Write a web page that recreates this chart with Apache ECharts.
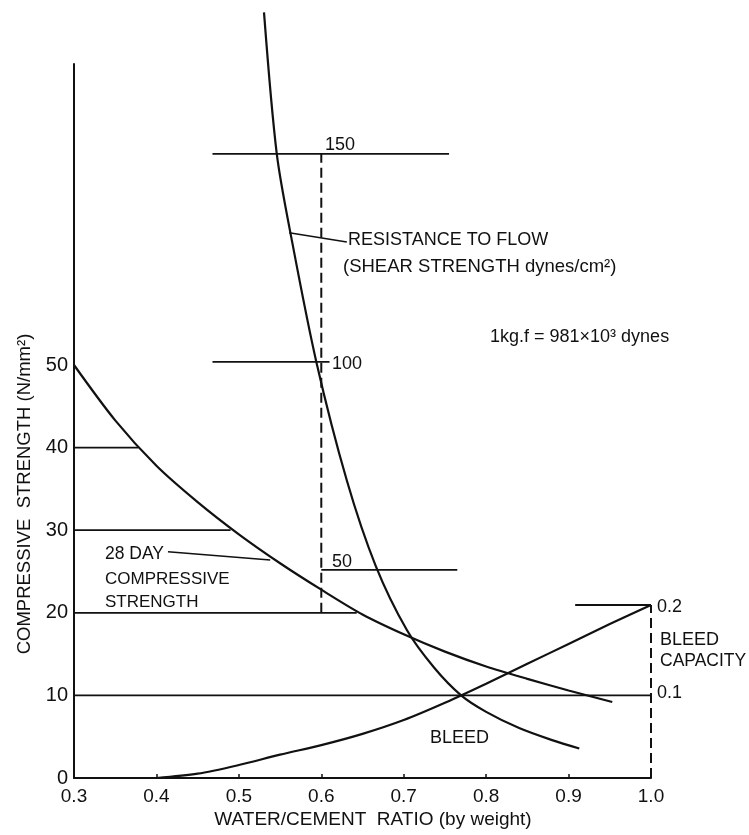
<!DOCTYPE html>
<html>
<head>
<meta charset="utf-8">
<script src="https://cdn.jsdelivr.net/npm/echarts@6/dist/echarts.min.js"></script>
<style>
html,body{margin:0;padding:0;background:#fff;}
#chart{width:749px;height:835px;}
</style>
</head>
<body>
<div id="chart"></div>
<script>
// ---------- data ----------
const xTicks = [0.3, 0.4, 0.5, 0.6, 0.7, 0.8, 0.9, 1.0];
const compLabels = [0, 10, 20, 30, 40, 50];

// 28 day compressive strength (N/mm2)
const compX = [0.30, 0.35, 0.40, 0.45, 0.50, 0.55, 0.60, 0.65, 0.70, 0.75, 0.80, 0.85, 0.90, 0.953];
const compY = [50, 43.3, 37.8, 33.4, 29.5, 26.0, 22.8, 19.8, 17.4, 15.3, 13.5, 12.0, 10.6, 9.2];

// resistance to flow (shear strength, dynes/cm2)
const resX = [0.5305, 0.546, 0.5645, 0.594, 0.631, 0.666, 0.704, 0.737, 0.77, 0.80, 0.84, 0.88, 0.913];
const resY = [184, 150, 129, 100, 71.5, 51, 35.5, 26.5, 19.8, 15.9, 12.0, 9.1, 7.1];

// bleed capacity
const bleedX = [0.40, 0.45, 0.50, 0.55, 0.60, 0.65, 0.70, 0.75, 0.80, 0.85, 0.90, 0.95, 1.00];
const bleedY = [0, 0.005, 0.015, 0.027, 0.038, 0.051, 0.067, 0.087, 0.109, 0.132, 0.155, 0.178, 0.200];

// reference lines on compressive scale
const compRefLevels = [40, 30, 20, 10];
const compRefEnds = [0.378, 0.49, 0.643, 1.0];

// shear scale ticks (drawn along w/c = 0.6)
const shearLevels = [150, 100, 50];
const shearStarts = [0.468, 0.468, 0.6];
const shearEnds = [0.755, 0.61, 0.765];
const shearAxisX = 0.6;
const shearAxisRange = [39.7, 150];

// bleed scale (drawn along w/c = 1.0)
const bleedAxisX = 1.0;
const bleedAxisRange = [0, 0.2];
const bleedTickLevel = 0.2;
const bleedTickStart = 0.908;

// pointer leaders (compressive scale)
const resPointer = [[0.561, 66.0], [0.631, 64.9]];
const dayPointer = [[0.414, 27.4], [0.538, 26.4]];

// ---------- chart ----------
const INK = '#111';
const FONT = "'Liberation Sans', Arial, sans-serif";
const chart = echarts.init(document.getElementById('chart'), null, {renderer: 'canvas'});

const zip = (xs, ys) => xs.map((x, i) => [x, ys[i]]);
const plain = (name, data, yIdx, extra) => Object.assign({
  type: 'line', name, data, yAxisIndex: yIdx, symbol: 'none', silent: true,
  lineStyle: {color: INK, width: 2}, animation: false, z: 3
}, extra || {});

const series = [];
series.push(plain('compressive', zip(compX, compY), 0, {smooth: 0.3, lineStyle: {color: INK, width: 2.2}}));
series.push(plain('resistance', zip(resX, resY), 1, {smooth: 0.3, clip: false, lineStyle: {color: INK, width: 2.2}}));
series.push(plain('bleed', zip(bleedX, bleedY), 2, {smooth: 0.3, lineStyle: {color: INK, width: 2.2}}));

compRefLevels.forEach((lv, i) => {
  series.push(plain('cref' + lv, [[xTicks[0], lv], [compRefEnds[i], lv]], 0, {lineStyle: {color: INK, width: 1.8}}));
});
shearLevels.forEach((lv, i) => {
  series.push(plain('sref' + lv, [[shearStarts[i], lv], [shearEnds[i], lv]], 1, {lineStyle: {color: INK, width: 1.8}}));
});
series.push(plain('shearAxis', [[shearAxisX, shearAxisRange[0]], [shearAxisX, shearAxisRange[1]]], 1,
  {lineStyle: {color: INK, width: 2, type: [10, 5]}}));
series.push(plain('bleedAxis', [[bleedAxisX, bleedAxisRange[0]], [bleedAxisX, bleedAxisRange[1]]], 2,
  {lineStyle: {color: INK, width: 2, type: [10, 5]}}));
series.push(plain('bleedTick', [[bleedTickStart, bleedTickLevel], [bleedAxisX, bleedTickLevel]], 2,
  {lineStyle: {color: INK, width: 1.8}}));
series.push(plain('resPointer', resPointer, 0, {lineStyle: {color: INK, width: 1.5}}));
series.push(plain('dayPointer', dayPointer, 0, {lineStyle: {color: INK, width: 1.5}}));

const txt = (text, x, y, size, extra, rot) => {
  const g = {
    type: 'text', x, y, silent: true, z: 10,
    style: Object.assign({text, fill: INK, font: (size || 18) + 'px ' + FONT, verticalAlign: 'middle', align: 'left'}, extra || {})
  };
  if (rot) g.rotation = rot;
  return g;
};

const option = {
  backgroundColor: '#fff',
  animation: false,
  grid: {left: 74, right: 98, top: 64, bottom: 57, containLabel: false},
  xAxis: {
    type: 'value', min: 0.3, max: 1.0, interval: 0.1,
    axisLine: {show: true, lineStyle: {color: INK, width: 2}},
    axisTick: {show: true, inside: true, length: 4, lineStyle: {color: INK, width: 1.5}},
    axisLabel: {color: INK, fontSize: 19, fontFamily: FONT, margin: 9,
      formatter: v => xTicks.some(t => Math.abs(t - v) < 1e-6) ? v.toFixed(1) : ''},
    splitLine: {show: false}
  },
  yAxis: [
    {
      type: 'value', min: 0, max: 86.44, interval: 10,
      axisLine: {show: true, lineStyle: {color: INK, width: 2}},
      axisTick: {show: false},
      axisLabel: {color: INK, fontSize: 20, fontFamily: FONT, margin: 6,
        formatter: v => compLabels.indexOf(Math.round(v)) >= 0 && Math.abs(v - Math.round(v)) < 1e-6 ? String(Math.round(v)) : ''},
      splitLine: {show: false}
    },
    {type: 'value', min: 0, max: 171.6, show: false, splitLine: {show: false}},
    {type: 'value', min: 0, max: 0.8254, show: false, splitLine: {show: false}}
  ],
  series,
  graphic: [
    txt('COMPRESSIVE  STRENGTH (N/mm²)', 25, 494, 18.5, {align: 'center'}, Math.PI / 2),
    txt('WATER/CEMENT  RATIO (by weight)', 373, 820, 19, {align: 'center'}),
    txt('150', 325, 145, 18),
    txt('100', 332, 364, 18),
    txt('50', 332, 562, 18),
    txt('RESISTANCE TO FLOW', 348, 240, 18),
    txt('(SHEAR STRENGTH dynes/cm²)', 343, 267, 18.5),
    txt('1kg.f = 981×10³ dynes', 490, 337, 18),
    txt('28 DAY', 105, 554, 17.5),
    txt('COMPRESSIVE', 105, 579, 17),
    txt('STRENGTH', 105, 602, 17),
    txt('BLEED', 430, 738, 18),
    txt('0.2', 657, 607, 18),
    txt('BLEED', 660, 640, 18),
    txt('CAPACITY', 660, 661, 17.5),
    txt('0.1', 657, 693, 18)
  ]
};
chart.setOption(option);
</script>
</body>
</html>
